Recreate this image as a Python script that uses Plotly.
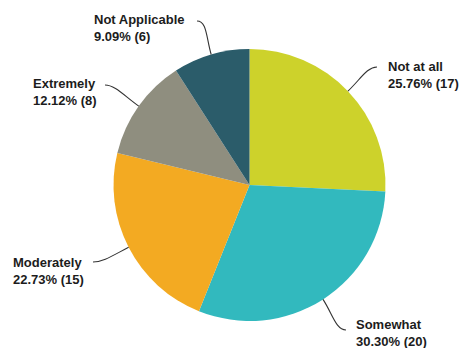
import math
import plotly.graph_objects as go

# Survey responses
categories = ["Not at all", "Somewhat", "Moderately", "Extremely", "Not Applicable"]
counts = [17, 20, 15, 8, 6]
colors = ["#CDD22B", "#32B9BE", "#F3AA22", "#8F8E7F", "#2B5C6A"]

W, H = 460, 348
CX, CY, R = 249.5, 185.0, 136.0  # pie centre / radius in pixels

# Label layout: left x, top y (pixels), leader line end point (pixels), side
label_pos = {
    "Not at all": (386, 57, (377, 67), 1),
    "Somewhat": (354, 315, (346, 330), 1),
    "Moderately": (11, 253, (93, 262), -1),
    "Extremely": (31, 74, (105, 85), -1),
    "Not Applicable": (92, 10, (197, 21), -1),
}

def px(x):
    return x / W

def py(y):
    return 1 - y / H

fig = go.Figure(go.Pie(
    labels=categories,
    values=counts,
    sort=False,
    direction="clockwise",
    rotation=0,
    marker=dict(colors=colors, line=dict(width=0)),
    textinfo="none",
    hoverinfo="label+percent",
    showlegend=False,
    domain=dict(x=[px(CX - R), px(CX + R)], y=[py(CY + R), py(CY - R)]),
))

total = sum(counts)
annotations = []
shapes = []
cum = 0
for cat, n in zip(categories, counts):
    mid = (cum + n / 2) / total * 2 * math.pi
    cum += n
    dx, dy = math.sin(mid), -math.cos(mid)
    sx, sy = CX + R * dx, CY + R * dy
    lx, ly, (ex, ey), side = label_pos[cat]
    pct = n / total * 100
    annotations.append(dict(
        x=px(lx), y=py(ly), xref="paper", yref="paper",
        xanchor="left", yanchor="top", align="left", showarrow=False,
        text=f"<b>{cat}<br>{pct:.2f}% ({n})</b>",
        font=dict(family="Liberation Sans, Arial, sans-serif", size=13, color="#1c1c1c"),
    ))
    # curved leader line: leaves the slice radially, arrives horizontally
    c1x, c1y = sx + dx * 18, sy + dy * 18
    c2x, c2y = ex - side * 10, ey
    path = (f"M {px(sx)},{py(sy)} C {px(c1x)},{py(c1y)} "
            f"{px(c2x)},{py(c2y)} {px(ex)},{py(ey)}")
    shapes.append(dict(type="path", path=path, xref="paper", yref="paper",
                       line=dict(color="#333333", width=1.1)))

fig.update_layout(
    width=W, height=H,
    margin=dict(l=0, r=0, t=0, b=0),
    paper_bgcolor="white",
    plot_bgcolor="white",
    annotations=annotations,
    shapes=shapes,
)

fig.write_html("out.html")
